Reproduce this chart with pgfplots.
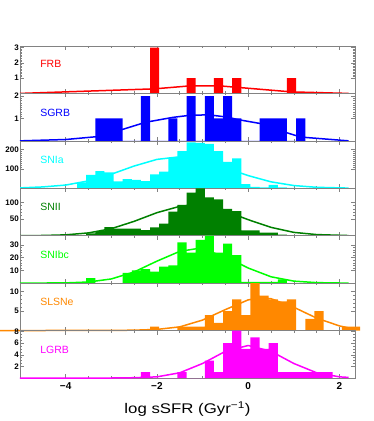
\documentclass[border=0pt]{standalone}
\usepackage{fontspec}
\setmainfont{Liberation Sans}
\usepackage{pgfplots}
\pgfplotsset{compat=1.18}
\definecolor{cFRB}{RGB}{255,0,0}
\definecolor{cSGRB}{RGB}{0,0,255}
\definecolor{cSNIa}{RGB}{0,255,255}
\definecolor{cSNII}{RGB}{0,128,0}
\definecolor{cSNIbc}{RGB}{0,255,0}
\definecolor{cSLSN}{RGB}{255,136,0}
\definecolor{cLGRB}{RGB}{255,0,255}
\definecolor{frame}{RGB}{130,130,130}
\tikzset{lab/.style={anchor=west, font=\fontsize{10.5}{12}\selectfont, text=#1}}
\pgfplotsset{
  panel/.style={
    scale only axis, width=335pt, height=47.43pt,
    xmin=-5, xmax=2.34, ymin=0,
    anchor=south west,
    axis line style={frame, line width=0.6pt},
    every tick/.style={frame, line width=0.5pt},
    tick align=inside,
    major tick length=4pt, minor tick length=2pt,
    xtick={-4,-2,0,2}, minor x tick num=3, xticklabels={},
    /pgf/number format/assume math mode=true,
    yticklabel style={font=\bfseries\fontsize{8}{8}\selectfont, inner sep=1pt},
    ticklabel style={text=black},
  },
  hist/.style={const plot, draw=none, fill=#1},
  fit/.style={#1, line width=1.5pt, line join=round},
}
\begin{document}
\begin{tikzpicture}
\path[use as bounding box] (0pt,0pt) rectangle (374pt,421pt);

% ---------------- FRB
\begin{axis}[panel, at={(20pt,327.57pt)}, ymax=3.1, ytick={1,2,3}, minor y tick num=9]
\addplot[hist=cFRB] coordinates {(-2.15,3) (-1.95,0) (-1.35,1) (-1.15,0) (-0.75,1) (-0.55,0) (-0.35,1) (-0.15,0) (0.85,1) (1.05,0)} \closedcycle;
\addplot[fit=cFRB] coordinates {(-5,0.0) (-2.05,0.3) (-1.25,0.5) (-0.65,0.5) (-0.25,0.4) (0.95,0.1) (2.2,0.0)};
\node[lab=cFRB] at (rel axis cs:0.05,0.62) {FRB};
\end{axis}

% ---------------- SGRB
\begin{axis}[panel, at={(20pt,280.14pt)}, ymax=2.12, ytick={1,2}, minor y tick num=9]
\addplot[hist=cSGRB] coordinates {(-3.35,1) (-2.75,0) (-2.35,2) (-2.15,0) (-1.75,1) (-1.55,0) (-1.35,2) (-1.15,0) (-0.95,2) (-0.75,1) (-0.55,2) (-0.35,1) (-0.15,0) (0.25,1) (0.85,0) (1.05,1) (1.25,0)} \closedcycle;
\addplot[fit=cSGRB] coordinates {(-5,0.0) (-4,0.06) (-3.25,0.2) (-2.85,0.45) (-2.25,0.83) (-1.65,1.05) (-1.25,1.15) (-0.85,1.16) (-0.45,1.06) (-0.25,0.96) (0.25,0.78) (0.85,0.36) (1.15,0.17) (2.2,0.0)};
\node[lab=cSGRB] at (rel axis cs:0.05,0.6) {SGRB};
\end{axis}

% ---------------- SNIa
\begin{axis}[panel, at={(20pt,232.71pt)}, ymax=243, ytick={100,200}, minor y tick num=9]
\addplot[hist=cSNIa] coordinates {(-3.75,30) (-3.55,69) (-3.35,88) (-3.15,81) (-2.95,35) (-2.75,47) (-2.55,43) (-2.35,37) (-2.15,71) (-1.95,85) (-1.75,157) (-1.55,191) (-1.35,235) (-1.15,233) (-0.95,227) (-0.75,191) (-0.55,135) (-0.35,153) (-0.15,21) (0.05,7) (0.25,5) (0.45,18) (0.65,5) (0.85,2) (1.05,0)} \closedcycle;
\addplot[fit=cSNIa] coordinates {(-5,2) (-4.5,7) (-4,16.5) (-3.5,38) (-3,72) (-2.5,114) (-2,148) (-1.55,160) (-1,143) (-0.5,105) (0,65) (0.5,33) (1,14) (1.5,5) (2.2,1)};
\node[lab=cSNIa] at (rel axis cs:0.05,0.6) {SNIa};
\end{axis}

% ---------------- SNII
\begin{axis}[panel, at={(20pt,185.28pt)}, ymax=142, ytick={50,100}, minor y tick num=4]
\addplot[hist=cSNII] coordinates {(-3.75,2) (-3.55,7) (-3.35,14) (-3.15,26) (-2.95,21) (-2.75,21) (-2.55,21) (-2.35,17) (-2.15,25) (-1.95,36) (-1.75,72) (-1.55,92) (-1.35,129) (-1.15,142) (-0.95,115) (-0.75,109) (-0.55,80) (-0.35,74) (-0.15,16) (0.05,16) (0.25,9) (0.45,9) (0.65,3) (0.85,0)} \closedcycle;
\addplot[fit=cSNII] coordinates {(-5,0.1) (-4.5,0.7) (-4,2.6) (-3.5,8.4) (-3,21) (-2.5,43) (-2,69) (-1.5,88) (-1.2,92) (-1,90) (-0.5,74) (0,48) (0.5,25) (1,10) (1.5,3.4) (2.2,0.5)};
\node[lab=cSNII] at (rel axis cs:0.05,0.6) {SNII};
\end{axis}

% ---------------- SNIbc
\begin{axis}[panel, at={(20pt,137.85pt)}, ymax=37.3, ytick={10,20,30}, minor y tick num=4]
\addplot[hist=cSNIbc] coordinates {(-3.55,4) (-3.35,0) (-2.75,8) (-2.55,10) (-2.35,11) (-2.15,9) (-1.95,13) (-1.75,14) (-1.55,32) (-1.35,24) (-1.15,34) (-0.95,37.3) (-0.75,24) (-0.55,31) (-0.35,22) (-0.15,1) (0.65,3) (0.85,0)} \closedcycle;
\addplot[fit=cSNIbc] coordinates {(-5,0) (-4,0.2) (-3.5,0.9) (-3,3.3) (-2.5,8.8) (-2,17.3) (-1.5,25) (-1.15,27) (-1,26.6) (-0.5,20.8) (0,11.9) (0.5,5.0) (1,1.6) (1.5,0.4) (2.2,0)};
\node[lab=cSNIbc] at (rel axis cs:0.05,0.6) {SNIbc};
\end{axis}

% ---------------- SLSNe
\begin{axis}[panel, at={(20pt,90.42pt)}, ymax=12.2, ytick={5,10}, minor y tick num=4, clip=false]
\addplot[hist=cSLSN] coordinates {(-2.15,1) (-1.95,0) (-1.55,1) (-0.95,4) (-0.75,2) (-0.55,5) (-0.35,8) (-0.15,4) (0.05,12.2) (0.25,9) (0.45,8) (0.65,7.5) (0.85,8) (1.05,0) (1.25,3) (1.45,5) (1.65,0) (2.05,1) (2.45,0)} \closedcycle;
\addplot[fit=cSLSN] coordinates {(-5.44,0) (-3,0.05) (-2.5,0.1) (-2,0.3) (-1.5,0.95) (-1,2.7) (-0.5,5.4) (0,7.9) (0.3,8.4) (0.5,8.2) (1,6.0) (1.5,3.2) (2,1.2) (2.2,0.7)};
\node[lab=cSLSN] at (rel axis cs:0.05,0.6) {SLSNe};
\end{axis}

% ---------------- LGRB
\begin{axis}[panel, at={(20pt,42.99pt)}, ymax=8.17, ytick={2,4,6,8}, minor y tick num=3,
  xticklabels={−4,−2,0,2},
  xticklabel style={font=\bfseries\fontsize{10}{12}\selectfont, yshift=-1pt}]
\addplot[hist=cLGRB] coordinates {(-2.35,1) (-2.15,0) (-1.55,1) (-1.35,0) (-0.95,3) (-0.75,1) (-0.55,6) (-0.35,8.17) (-0.15,5) (0.05,7) (0.25,5) (0.45,6) (0.65,1) (1.85,0)} \closedcycle;
\addplot[fit=cLGRB] coordinates {(-5,0) (-3,0) (-2.5,0.05) (-2,0.2) (-1.5,0.9) (-1,2.5) (-0.5,4.6) (0,5.6) (0.5,4.6) (1,2.5) (1.5,0.9) (2,0.2) (2.2,0.1)};
\node[lab=cLGRB] at (rel axis cs:0.05,0.6) {LGRB};
\end{axis}

\node[font=\fontsize{14}{16}\selectfont, xscale=1.2, inner sep=0pt] at (187.5pt,12pt) {log sSFR (Gyr\textsuperscript{−1})};
\end{tikzpicture}
\end{document}
